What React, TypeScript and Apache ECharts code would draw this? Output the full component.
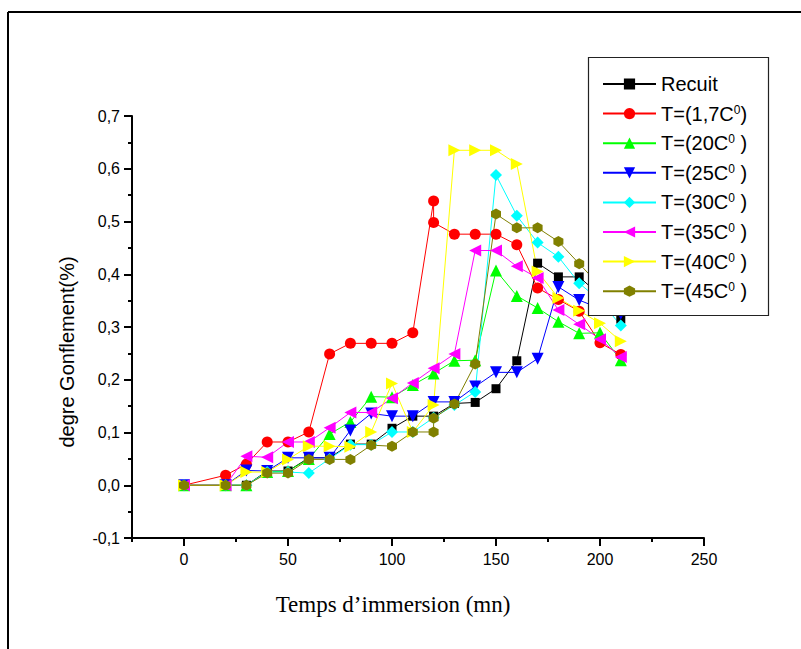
import React, { useEffect, useRef } from 'react';
import * as echarts from 'echarts';

// Time (mn)
const timeMin = [0, 20, 30, 40, 50, 60, 70, 80, 90, 100, 110, 120, 130, 140, 150, 160, 170, 180, 190, 200, 210];
const timeMinDouble120 = [0, 20, 30, 40, 50, 60, 70, 80, 90, 100, 110, 120, 120, 130, 140, 150, 160, 170, 180, 190, 200, 210];

// degre Gonflement (%)
const recuit = [0, 0, 0, 0.027, 0.027, 0.052, 0.052, 0.078, 0.078, 0.108, 0.131, 0.131, 0.155, 0.157, 0.183, 0.236, 0.421, 0.395, 0.395, 0.36, 0.315];
const t17 = [0, 0.019, 0.04, 0.082, 0.082, 0.101, 0.249, 0.269, 0.269, 0.269, 0.289, 0.539, 0.498, 0.476, 0.476, 0.476, 0.456, 0.374, 0.352, 0.33, 0.27, 0.248];
const t20 = [0, 0, 0, 0.025, 0.027, 0.05, 0.097, 0.12, 0.168, 0.167, 0.19, 0.212, 0.236, 0.237, 0.407, 0.359, 0.336, 0.31, 0.288, 0.289, 0.237];
const t25 = [0, 0, 0.028, 0.027, 0.052, 0.052, 0.052, 0.104, 0.136, 0.131, 0.131, 0.158, 0.158, 0.187, 0.214, 0.214, 0.24, 0.376, 0.351, 0.335, 0.325];
const t30 = [0, 0, 0, 0.025, 0.025, 0.023, 0.05, 0.077, 0.077, 0.101, 0.101, 0.128, 0.152, 0.177, 0.588, 0.511, 0.46, 0.433, 0.383, 0.35, 0.303];
const t35 = [0, 0, 0.055, 0.053, 0.082, 0.082, 0.109, 0.138, 0.138, 0.165, 0.194, 0.222, 0.249, 0.445, 0.445, 0.415, 0.393, 0.332, 0.305, 0.277, 0.243];
const t40 = [0, 0, 0.025, 0.025, 0.049, 0.074, 0.074, 0.073, 0.101, 0.193, 0.101, 0.152, 0.635, 0.635, 0.635, 0.609, 0.405, 0.355, 0.331, 0.307, 0.273];
const t45 = [0, 0, 0, 0.023, 0.023, 0.049, 0.049, 0.049, 0.076, 0.074, 0.101, 0.101, 0.127, 0.154, 0.23, 0.514, 0.488, 0.488, 0.462, 0.42, 0.378, 0.345];

const seriesNames = ['Recuit', 'T=(1,7C0)', 'T=(20C0 )', 'T=(25C0 )', 'T=(30C0 )', 'T=(35C0 )', 'T=(40C0 )', 'T=(45C0 )'];
const legendLabels = ['Recuit', 'T=(1,7C{sup|0})', 'T=(20C{sup|0} )', 'T=(25C{sup|0} )', 'T=(30C{sup|0} )', 'T=(35C{sup|0} )', 'T=(40C{sup|0} )', 'T=(45C{sup|0} )'];

const xMajorTicks = [0, 50, 100, 150, 200, 250];
const xMinorTicks = [-25, 25, 75, 125, 175, 225];

const SANS = '"Liberation Sans", Arial, sans-serif';
const SERIF = '"Liberation Serif", "Times New Roman", serif';

const zip = (xs: number[], ys: number[]) => ys.map((y, i) => [xs[i], y]);

export default function App() {
  const ref = useRef<HTMLDivElement>(null);
  useEffect(() => {
    if (!ref.current) return;
    const chart = echarts.init(ref.current, null, { renderer: 'svg' });
    const hexagon = 'path://M0,-10 L8.66,-5 L8.66,5 L0,10 L-8.66,5 L-8.66,-5 Z';
    const defs = [
      { data: zip(timeMin, recuit), color: '#000000', symbol: 'rect', size: 9, rotate: 0 },
      { data: zip(timeMinDouble120, t17), color: '#ff0000', symbol: 'circle', size: 11, rotate: 0 },
      { data: zip(timeMin, t20), color: '#00ff00', symbol: 'triangle', size: 12, rotate: 0 },
      { data: zip(timeMin, t25), color: '#0000ff', symbol: 'triangle', size: 12, rotate: 180 },
      { data: zip(timeMin, t30), color: '#00ffff', symbol: 'diamond', size: 12, rotate: 0 },
      { data: zip(timeMin, t35), color: '#ff00ff', symbol: 'triangle', size: 12, rotate: 90 },
      { data: zip(timeMin, t40), color: '#ffff00', symbol: 'triangle', size: 12, rotate: -90 },
      { data: zip(timeMinDouble120, t45), color: '#808000', symbol: hexagon, size: [10, 11], rotate: 0 },
    ];
    const series = defs.map((d, i) => ({
      name: seriesNames[i],
      type: 'line',
      data: d.data,
      symbol: d.symbol,
      symbolSize: d.size,
      symbolRotate: d.rotate,
      showAllSymbol: true,
      itemStyle: { color: d.color },
      lineStyle: { color: d.color, width: 1 },
      z: 2,
    }));
    const labelMap: Record<string, string> = {};
    seriesNames.forEach((n, i) => (labelMap[n] = legendLabels[i]));

    chart.setOption({
      animation: false,
      backgroundColor: '#ffffff',
      grid: { left: 132, right: 97, top: 116, bottom: 111, containLabel: false },
      xAxis: [
        {
          type: 'value',
          min: -25,
          max: 250,
          position: 'bottom',
          axisLine: { onZero: false, lineStyle: { color: '#000', width: 2 } },
          axisTick: { show: true, length: 8, customValues: xMajorTicks, lineStyle: { color: '#000', width: 2 } },
          axisLabel: { customValues: xMajorTicks, color: '#000', fontSize: 16, fontFamily: SANS, margin: 13 },
          splitLine: { show: false },
        },
        {
          type: 'value',
          min: -25,
          max: 250,
          position: 'bottom',
          axisLine: { show: false, onZero: false },
          axisTick: { show: true, length: 4, customValues: xMinorTicks, lineStyle: { color: '#000', width: 2 } },
          axisLabel: { show: false },
          splitLine: { show: false },
        },
      ],
      yAxis: {
        type: 'value',
        min: -0.1,
        max: 0.7,
        interval: 0.1,
        axisLine: { show: true, onZero: false, lineStyle: { color: '#000', width: 2 } },
        axisTick: { show: true, length: 8, lineStyle: { color: '#000', width: 2 } },
        minorTick: { show: true, splitNumber: 2, length: 4, lineStyle: { color: '#000', width: 2 } },
        axisLabel: {
          color: '#000',
          fontSize: 16,
          fontFamily: SANS,
          margin: 12,
          formatter: (v: number) => v.toFixed(1).replace('.', ','),
        },
        splitLine: { show: false },
      },
      legend: {
        orient: 'vertical',
        left: 588,
        top: 57,
        padding: [17, 14, 13, 14],
        itemGap: 9.6,
        itemWidth: 53,
        itemHeight: 14,
        data: seriesNames,
        formatter: (name: string) => labelMap[name] || name,
        textStyle: {
          color: '#000',
          fontSize: 20,
          fontFamily: SANS,
          lineHeight: 20,
          rich: {
            sup: { fontSize: 12, fontFamily: SANS, color: '#000', verticalAlign: 'top', lineHeight: 12, padding: [0, 0, 8, 0] },
          },
        },
        z: 4,
      },
      graphic: [
        { type: 'line', shape: { x1: 8, y1: 12, x2: 801, y2: 12 }, style: { stroke: '#000', lineWidth: 2 } },
        { type: 'line', shape: { x1: 8, y1: 12, x2: 8, y2: 649 }, style: { stroke: '#000', lineWidth: 2 } },
        {
          type: 'rect',
          z: 3,
          shape: { x: 588.5, y: 57.5, width: 180, height: 258 },
          style: { fill: '#ffffff', stroke: '#222', lineWidth: 1.2 },
        },
        {
          type: 'text',
          x: 393,
          y: 604,
          style: { text: 'Temps d\u2019immersion (mn)', fill: '#000', fontSize: 23, fontFamily: SERIF, align: 'center', verticalAlign: 'middle' },
        },
        {
          type: 'text',
          x: 67,
          y: 352,
          rotation: Math.PI / 2,
          style: { text: 'degre Gonflement(%)', fill: '#000', fontSize: 20, fontFamily: SANS, align: 'center', verticalAlign: 'middle' },
        },
      ],
      series,
    });
    return () => chart.dispose();
  }, []);
  return <div ref={ref} style={{ position: 'fixed', left: 0, top: 0, width: 801, height: 649 }} />;
}
